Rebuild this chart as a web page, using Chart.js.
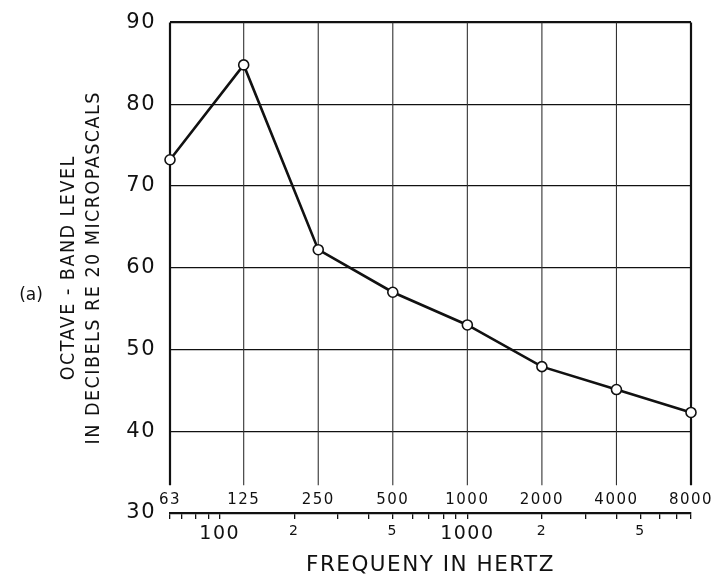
<!DOCTYPE html>
<html>
<head>
<meta charset="utf-8">
<script src="https://cdn.jsdelivr.net/npm/chart.js@4.4.0/dist/chart.umd.min.js"></script>
<style>
  body { margin: 0; background: #fff; }
</style>
</head>
<body>
<canvas id="myChart" width="724" height="578"></canvas>
<script>
// octave band centre frequencies (Hz) and the measured band levels (dB)
const octaveBands = [63, 125, 250, 500, 1000, 2000, 4000, 8000];
const bandLevels = [73.2, 84.8, 62.2, 57.0, 53.0, 47.9, 45.1, 42.3];
const octaveLabels = ["63", "125", "250", "500", "1000", "2000", "4000", "8000"];

// the log frequency bar under the plot
const scaleTicks = [63, 70, 80, 90, 100, 200, 300, 400, 500, 600, 700, 800, 900,
  1000, 2000, 3000, 4000, 5000, 6000, 7000, 8000];
const scaleLabels = { 100: "100", 200: "2", 500: "5", 1000: "1000", 2000: "2", 5000: "5" };
const levelTicks = [30, 40, 50, 60, 70, 80, 90];

const ink = "#111";
const plainFont = "'DejaVu Sans', sans-serif";
const narrowFont = "'Liberation Sans Narrow', 'DejaVu Sans Condensed', 'Liberation Sans', sans-serif";

// wide lettering like the original drawing
const spacing = {
  id: "spacing",
  beforeDraw(chart) {
    chart.ctx.letterSpacing = "1.5px";
  },
};

// vertical octave lines stop short of the bar, band numbers sit in the gap
const octaveGrid = {
  id: "octaveGrid",
  beforeDatasetsDraw(chart) {
    const ctx = chart.ctx;
    const xs = chart.scales.x;
    const ys = chart.scales.y;
    const top = ys.getPixelForValue(90);
    const bottom = ys.getPixelForValue(33.4);
    ctx.save();
    octaveBands.forEach((f, i) => {
      const px = xs.getPixelForValue(f);
      const edge = i === 0 || i === octaveBands.length - 1;
      ctx.strokeStyle = edge ? ink : "#333";
      ctx.lineWidth = edge ? 2.2 : 1.1;
      ctx.beginPath();
      ctx.moveTo(px, top);
      ctx.lineTo(px, bottom);
      ctx.stroke();
    });
    ctx.fillStyle = ink;
    ctx.font = "15px " + plainFont;
    ctx.letterSpacing = "1.5px";
    ctx.textAlign = "center";
    ctx.textBaseline = "middle";
    octaveBands.forEach((f, i) => {
      ctx.fillText(octaveLabels[i], xs.getPixelForValue(f), ys.getPixelForValue(31.6));
    });
    ctx.font = "17px " + plainFont;
    ctx.letterSpacing = "0px";
    ctx.fillText("(a)", 31, 296);
    ctx.restore();
  },
};

const ctx = document.getElementById("myChart").getContext("2d");
const chart = new Chart(ctx, {
  type: "line",
  data: {
    datasets: [
      {
        data: octaveBands.map((f, i) => ({ x: f, y: bandLevels[i] })),
        borderColor: ink,
        borderWidth: 2.6,
        tension: 0,
        pointRadius: 5,
        pointBackgroundColor: "#fff",
        pointBorderColor: ink,
        pointBorderWidth: 1.6,
        clip: false,
      },
    ],
  },
  options: {
    responsive: false,
    animation: false,
    layout: { padding: { left: 50, right: 33, top: 12, bottom: 0 } },
    plugins: { legend: { display: false }, tooltip: { enabled: false } },
    scales: {
      x: {
        type: "logarithmic",
        min: 63,
        max: 8000,
        afterBuildTicks: (scale) => {
          scale.ticks = scaleTicks.map((v) => ({ value: v }));
        },
        afterFit: (scale) => {
          scale.height = 65;
        },
        grid: { drawOnChartArea: false, drawTicks: true, tickLength: 6, color: ink, lineWidth: 1.3 },
        border: { display: true, color: ink, width: 2.2 },
        ticks: {
          autoSkip: false,
          maxRotation: 0,
          padding: 4,
          color: ink,
          callback: (v) => scaleLabels[v] || "",
          font: (c) => {
            const v = c.tick ? c.tick.value : 0;
            return { family: plainFont, size: v === 100 || v === 1000 ? 19 : 14 };
          },
        },
        title: {
          display: true,
          text: "FREQUENY IN HERTZ",
          color: ink,
          font: { family: plainFont, size: 21.5 },
          padding: { top: 0, bottom: 0 },
        },
      },
      y: {
        min: 30,
        max: 90,
        afterBuildTicks: (scale) => {
          scale.ticks = levelTicks.map((v) => ({ value: v }));
        },
        afterFit: (scale) => {
          scale.width = 120;
        },
        grid: {
          drawTicks: false,
          color: (c) => (c.tick && c.tick.value === 30 ? "rgba(0,0,0,0)" : ink),
          lineWidth: (c) => (c.tick && c.tick.value === 90 ? 2.2 : 1.3),
        },
        border: { display: false },
        ticks: { color: ink, padding: 14, font: { family: plainFont, size: 21, lineHeight: 0.8 } },
        title: {
          display: true,
          text: ["OCTAVE - BAND LEVEL", "IN DECIBELS RE 20 MICROPASCALS"],
          color: ink,
          font: { family: narrowFont, size: 19.5, lineHeight: 1.3 },
          padding: { top: 6, bottom: 0 },
        },
      },
    },
  },
  plugins: [spacing, octaveGrid],
});
</script>
</body>
</html>
